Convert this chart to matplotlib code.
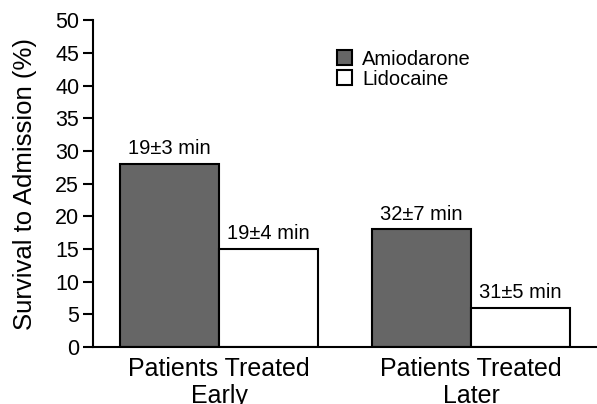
import numpy as np
from matplotlib import pyplot as plt

plt.rcParams['font.family'] = ['Liberation Sans', 'DejaVu Sans']

groups = ['Patients Treated\nEarly', 'Patients Treated\nLater']
amiodarone = [28, 18]
lidocaine = [15, 6]
amio_labels = ['19\u00b13 min', '32\u00b17 min']
lido_labels = ['19\u00b14 min', '31\u00b15 min']

fig = plt.figure(figsize=(5.97, 4.04), dpi=100)
ax = fig.add_axes([0.156, 0.141, 0.844, 0.809])

x = np.arange(len(groups))
w = 0.393
b1 = ax.bar(x - w / 2, amiodarone, w, color='#666666', edgecolor='black',
            linewidth=1.5, label='Amiodarone')
b2 = ax.bar(x + w / 2, lidocaine, w, color='white', edgecolor='black',
            linewidth=1.5, label='Lidocaine')

for rect, txt in zip(list(b1) + list(b2), amio_labels + lido_labels):
    ax.annotate(txt, (rect.get_x() + rect.get_width() / 2, rect.get_height()),
                xytext=(0, 4), textcoords='offset points',
                ha='center', va='bottom', fontsize=14.5)

ax.set_xlim(-0.5, 1.5)
ax.set_ylim(0, 50)
ax.set_yticks(range(0, 51, 5))
ax.set_xticks(x)
ax.set_xticklabels(groups, fontsize=18, linespacing=1.15)
ax.tick_params(axis='x', length=0, pad=7)
ax.tick_params(axis='y', labelsize=15.5, width=1.5, length=7, direction='out', pad=3)
ax.set_ylabel('Survival to Admission (%)', fontsize=18.5, labelpad=13)

ax.spines['top'].set_visible(False)
ax.spines['right'].set_visible(False)
ax.spines['left'].set_linewidth(1.5)
ax.spines['bottom'].set_linewidth(1.5)

ax.legend(loc='upper left', bbox_to_anchor=(0.464, 0.94), frameon=False,
          fontsize=14.5, handlelength=0.75, handleheight=0.75,
          handletextpad=0.5, labelspacing=0.05, borderpad=0)

fig.savefig('out.png', dpi=100)
